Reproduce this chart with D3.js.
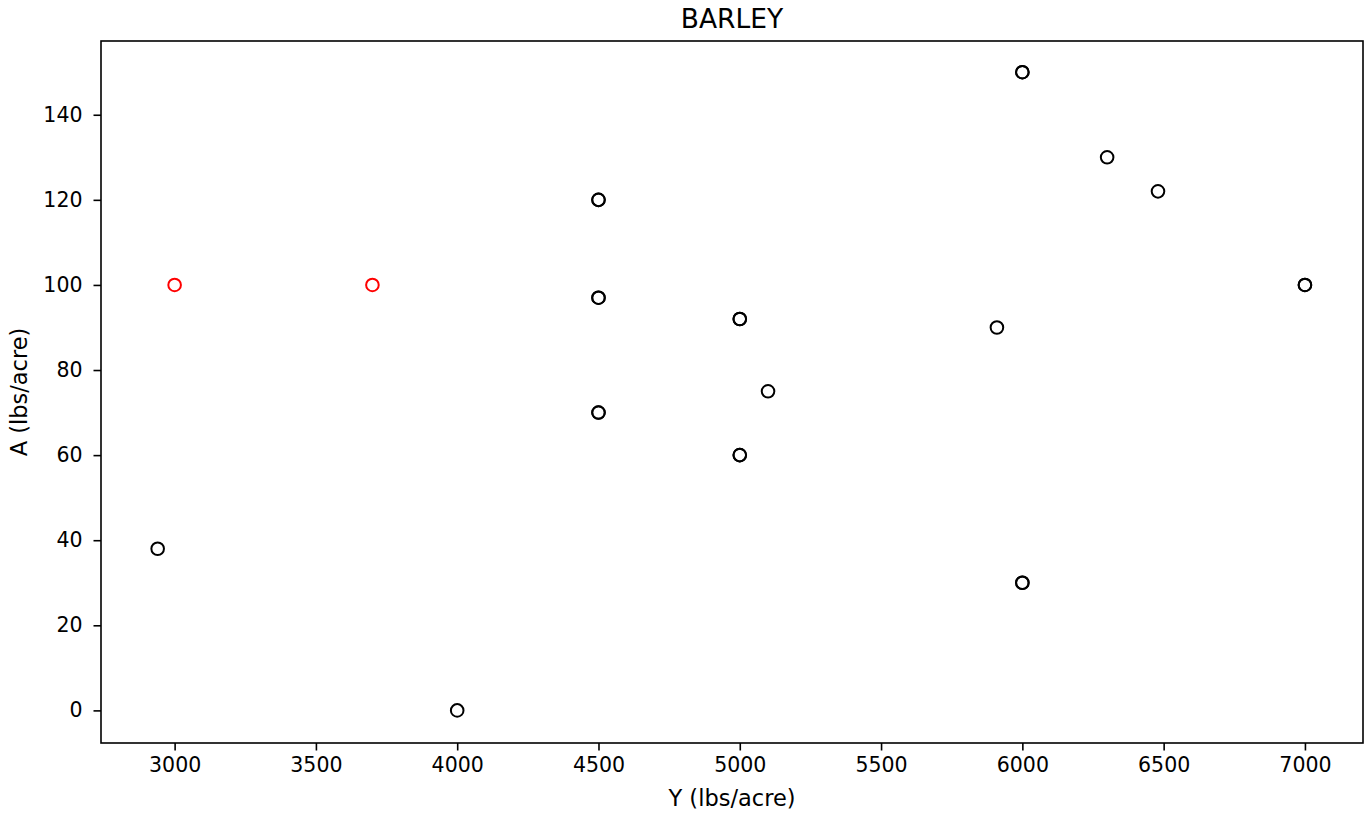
<!DOCTYPE html>
<html>
<head>
<meta charset="utf-8">
<script src="https://cdn.jsdelivr.net/npm/d3@7"></script>
<style>
  html, body { margin: 0; padding: 0; background: #fff; }
  svg { display: block; }
  text { font-family: "DejaVu Sans", sans-serif; fill: #000; }
</style>
</head>
<body>
<svg id="chart" width="1367" height="814"></svg>
<script>
// ---- data ----
const blackX = [2940, 4000, 4500, 4500, 4500, 4500, 4500, 4500, 5000, 5000, 5000, 5000, 5100, 5910, 6000, 6000, 6000, 6000, 6300, 6480, 7000, 7000];
const blackY = [38, 0, 120, 120, 97, 97, 70, 70, 92, 92, 60, 60, 75, 90, 150, 150, 30, 30, 130, 122, 100, 100];
const redX = [3000, 3700];
const redY = [100, 100];
const xTicks = [3000, 3500, 4000, 4500, 5000, 5500, 6000, 6500, 7000];
const yTicks = [0, 20, 40, 60, 80, 100, 120, 140];
const title = "BARLEY";
const xLabel = "Y (lbs/acre)";
const yLabel = "A (lbs/acre)";

// ---- layout ----
const svg = d3.select("#chart");
const mLeft = 101, mRight = 1363, mTop = 41, mBottom = 743;

const allX = blackX.concat(redX), allY = blackY.concat(redY);
const [xmin, xmax] = d3.extent(allX);
const [ymin, ymax] = d3.extent(allY);
const xpad = (xmax - xmin) * 0.05, ypad = (ymax - ymin) * 0.05;

const x = d3.scaleLinear().domain([xmin - xpad, xmax + xpad]).range([mLeft - 0.7, mRight - 0.7]);
const y = d3.scaleLinear().domain([ymin - ypad, ymax + ypad]).range([mBottom - 0.7, mTop - 0.7]);

const tickFont = 20.5;

// x axis
const xAxis = d3.axisBottom(x).tickValues(xTicks).tickFormat(d3.format("d")).tickSizeInner(7.5).tickSizeOuter(0).tickPadding(7);
const gx = svg.append("g").attr("transform", `translate(0,${mBottom})`).call(xAxis);
gx.select(".domain").remove();
gx.selectAll(".tick line").attr("stroke", "#000").attr("stroke-width", 1.6);
gx.selectAll(".tick text").attr("font-size", tickFont).attr("font-family", "DejaVu Sans").attr("fill", "#000");

// y axis
const yAxis = d3.axisLeft(y).tickValues(yTicks).tickFormat(d3.format("d")).tickSizeInner(7.5).tickSizeOuter(0).tickPadding(11);
const gy = svg.append("g").attr("transform", `translate(${mLeft},0)`).call(yAxis);
gy.select(".domain").remove();
gy.selectAll(".tick line").attr("stroke", "#000").attr("stroke-width", 1.6);
gy.selectAll(".tick text").attr("font-size", tickFont).attr("font-family", "DejaVu Sans").attr("fill", "#000");

// frame
svg.append("rect")
  .attr("x", mLeft).attr("y", mTop)
  .attr("width", mRight - mLeft).attr("height", mBottom - mTop)
  .attr("fill", "none").attr("stroke", "#000").attr("stroke-width", 1.6);

// points
const r = 6.3, sw = 2;
svg.append("g").selectAll("circle")
  .data(d3.range(blackX.length))
  .join("circle")
  .attr("cx", i => x(blackX[i])).attr("cy", i => y(blackY[i]))
  .attr("r", r).attr("fill", "none").attr("stroke", "#000").attr("stroke-width", sw);

svg.append("g").selectAll("circle")
  .data(d3.range(redX.length))
  .join("circle")
  .attr("cx", i => x(redX[i])).attr("cy", i => y(redY[i]))
  .attr("r", r).attr("fill", "none").attr("stroke", "#ff0000").attr("stroke-width", sw);

// title and labels
svg.append("text").attr("x", (mLeft + mRight) / 2).attr("y", 28)
  .attr("text-anchor", "middle").attr("font-size", 26.5).text(title);

svg.append("text").attr("x", (mLeft + mRight) / 2).attr("y", 806)
  .attr("text-anchor", "middle").attr("font-size", 22.5).text(xLabel);

svg.append("text")
  .attr("transform", `translate(27,${(mTop + mBottom) / 2}) rotate(-90)`)
  .attr("text-anchor", "middle").attr("font-size", 22.5).text(yLabel);
</script>
</body>
</html>
